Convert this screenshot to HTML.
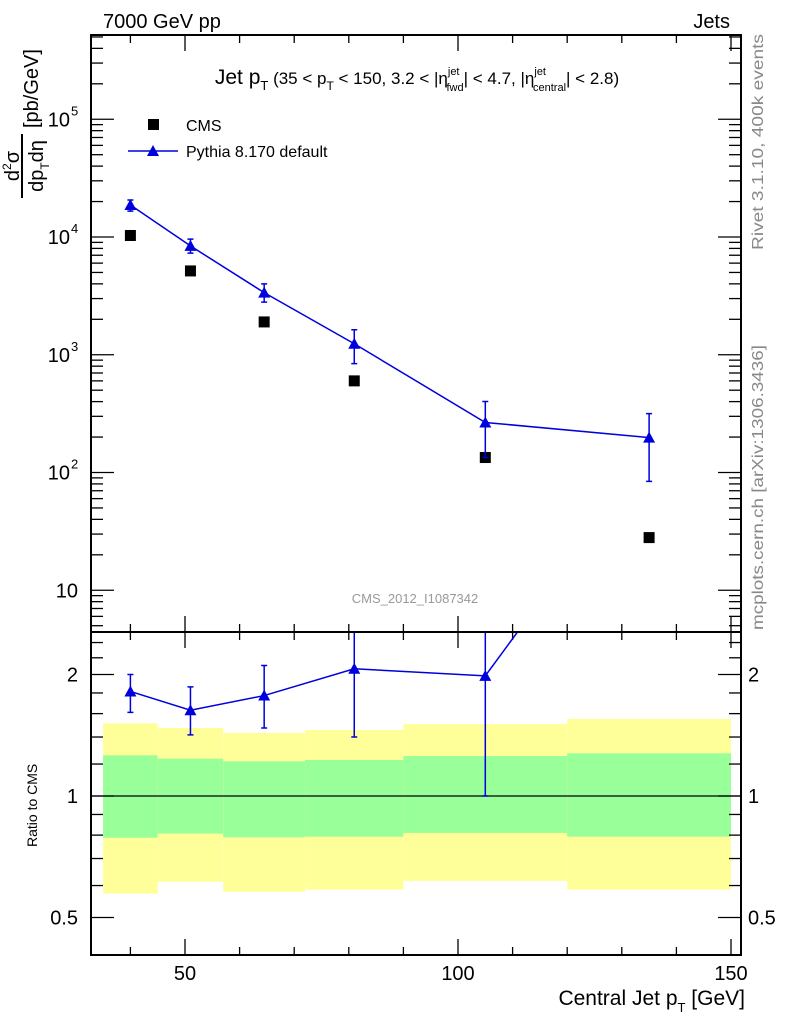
<!DOCTYPE html>
<html><head><meta charset="utf-8"><style>
html,body{margin:0;padding:0;background:#fff}
svg{display:block;font-family:"Liberation Sans",sans-serif}
</style></head><body>
<svg id="chart" width="786" height="1024" viewBox="0 0 786 1024" xmlns="http://www.w3.org/2000/svg">
<g id="bands"></g>
<g id="ticks" stroke="#000" stroke-width="1.3"></g>
<g id="series"></g>
<rect x="91" y="35" width="650" height="597" fill="none" stroke="#000" stroke-width="2"/>
<rect x="91" y="632" width="650" height="323" fill="none" stroke="#000" stroke-width="2"/>
<text x="103" y="28" font-size="20">7000 GeV pp</text>
<text x="730" y="28" font-size="20" text-anchor="end">Jets</text>
<text x="417" y="84" font-size="21" text-anchor="middle">Jet p<tspan font-size="13" dy="6">T</tspan><tspan dy="-6" font-size="17"> (35 &lt; p</tspan><tspan font-size="12" dy="6">T</tspan><tspan dy="-6" font-size="17"> &lt; 150, 3.2 &lt; |η</tspan><tspan font-size="11" dy="-9">jet</tspan><tspan font-size="11" dx="-13" dy="16">fwd</tspan><tspan dy="-7" font-size="17">| &lt; 4.7, |η</tspan><tspan font-size="11" dy="-9">jet</tspan><tspan font-size="11" dx="-13" dy="16">central</tspan><tspan dy="-7" font-size="17">| &lt; 2.8)</tspan></text>
<g>
<rect x="148" y="119" width="11" height="11" fill="#000"/>
<text x="186" y="131" font-size="16">CMS</text>
<line x1="128" y1="151" x2="178" y2="151" stroke="#0000dd" stroke-width="1.5"/>
<polygon points="147,156 159,156 153,145" fill="#0000dd"/>
<text x="186" y="157" font-size="16">Pythia 8.170 default</text>
</g>
<g>
<text transform="translate(19,166) rotate(-90)" font-size="20" text-anchor="middle">d<tspan font-size="12" dy="-8">2</tspan><tspan dy="8">σ</tspan></text>
<line x1="22" y1="134" x2="22" y2="198" stroke="#000" stroke-width="2"/>
<text transform="translate(43,166) rotate(-90)" font-size="20" text-anchor="middle">dp<tspan font-size="12" dy="6">T</tspan><tspan dy="-6">dη</tspan></text>
<text transform="translate(38,128) rotate(-90)" font-size="20">[pb/GeV]</text>
</g>
<text transform="translate(37,847) rotate(-90)" font-size="14">Ratio to CMS</text>
<text x="745" y="1005" font-size="21" text-anchor="end">Central Jet p<tspan font-size="13" dy="7">T</tspan><tspan dy="-7"> [GeV]</tspan></text>
<text x="415" y="603" font-size="13" fill="#999" text-anchor="middle">CMS_2012_I1087342</text>
<text transform="translate(763,250) rotate(-90)" font-size="16" textLength="216" lengthAdjust="spacingAndGlyphs" fill="#888">Rivet 3.1.10,  400k events</text>
<text transform="translate(763,630) rotate(-90)" font-size="16" textLength="285" lengthAdjust="spacingAndGlyphs" fill="#888">mcplots.cern.ch [arXiv:1306.3436]</text>
<g id="labels"></g>
</svg>
<script>
const binEdges=[35,45,57,72,90,120,150];
const xCenters=[40,51,64.5,81,105,135];
const cmsValues=[10300,5150,1900,600,134,28];
const pythiaValues=[18700,8400,3370,1240,266,198];
const pythiaUp=[20600,9600,4000,1630,401,316];
const pythiaDown=[16600,7300,2800,840,134,84];
const yellowUp=[1.514,1.474,1.433,1.457,1.507,1.552];
const yellowDown=[0.573,0.613,0.579,0.586,0.616,0.586];
const greenUp=[1.261,1.237,1.219,1.228,1.256,1.276];
const greenDown=[0.788,0.807,0.790,0.793,0.810,0.793];
const xTickLabels=[50,100,150];
const yTickLabels=[{v:10,t:"10"},{v:100,t:"10",e:"2"},{v:1000,t:"10",e:"3"},{v:10000,t:"10",e:"4"},{v:100000,t:"10",e:"5"}];
const rTickLabels=[{v:0.5,t:"0.5"},{v:1,t:"1"},{v:2,t:"2"}];

const NS="http://www.w3.org/2000/svg";
const L=91,R=741,MT=35,MB=632,RB=955;
const xS=v=>185+(v-50)*5.46;
const yM=v=>237-(Math.log10(v)-4)*117.75;
const yR=r=>796-Math.log2(r)*121.5;
function mk(tag,attrs,parent){const e=document.createElementNS(NS,tag);for(const k in attrs)e.setAttribute(k,attrs[k]);parent.appendChild(e);return e;}
const bands=document.getElementById('bands'),ticks=document.getElementById('ticks'),series=document.getElementById('series'),labels=document.getElementById('labels');

for(let i=0;i<xCenters.length;i++){
  const x1=xS(binEdges[i]),x2=xS(binEdges[i+1]);
  const y=mk('rect',{x:x1,y:yR(yellowUp[i]),width:x2-x1,height:yR(yellowDown[i])-yR(yellowUp[i]),fill:'#ffff99'},bands);
  
  
  const g=mk('rect',{x:x1,y:yR(greenUp[i]),width:x2-x1,height:yR(greenDown[i])-yR(greenUp[i]),fill:'#99ff99'},bands);
  
  
}
const one=mk('line',{x1:L,x2:R,y1:yR(1),y2:yR(1),stroke:'#000','stroke-width':1.3},bands);



for(let v=40;v<=150;v+=10){
  const maj=v%50===0, len=maj?16:8, x=xS(v);
  [[MT,1],[MB,-1],[MB,1],[RB,-1]].forEach(([y0,d])=>mk('line',{x1:x,x2:x,y1:y0,y2:y0+d*len},ticks));
}
for(let d=0;d<=5;d++)for(let m=1;m<=9;m++){
  const v=m*Math.pow(10,d);const y=yM(v);if(y<MT||y>MB)continue;
  const len=m===1?23:12;
  mk('line',{x1:L,x2:L+len,y1:y,y2:y},ticks);mk('line',{x1:R,x2:R-len,y1:y,y2:y},ticks);
}
[0.5,1,2].forEach(v=>{const y=yR(v);mk('line',{x1:L,x2:L+23,y1:y,y2:y},ticks);mk('line',{x1:R,x2:R-23,y1:y,y2:y},ticks);});
[0.6,0.7,0.8,0.9,1.2,1.4,1.6,1.8,2.2,2.4].forEach(v=>{const y=yR(v);mk('line',{x1:L,x2:L+12,y1:y,y2:y},ticks);mk('line',{x1:R,x2:R-12,y1:y,y2:y},ticks);});

xTickLabels.forEach(v=>{const t=mk('text',{x:xS(v),y:980,'font-size':20,'text-anchor':'middle'},labels);t.textContent=v;
  
  });
yTickLabels.forEach(o=>{const t=mk('text',{x:o.e?70:78,y:yM(o.v)+7,'font-size':20,'text-anchor':'end'},labels);t.textContent=o.t;
  
  
  if(o.e){const s=mk('text',{x:71,y:yM(o.v)-4,'font-size':13},labels);s.textContent=o.e;
  
  }});
rTickLabels.forEach(o=>{
  const a=mk('text',{x:78,y:yR(o.v)+7,'font-size':20,'text-anchor':'end'},labels);a.textContent=o.t;
  
  
  const b=mk('text',{x:748,y:yR(o.v)+7,'font-size':20},labels);b.textContent=o.t;
  
  });

const BLUE='#0000dd';
function tri(x,y,p,name){const t=mk('polygon',{points:`${x-6},${y+5} ${x+6},${y+5} ${x},${y-6}`,fill:BLUE},p);
  
  }
let pts=xCenters.map((x,i)=>xS(x)+','+yM(pythiaValues[i])).join(' ');
const pl=mk('polyline',{points:pts,fill:'none',stroke:BLUE,'stroke-width':1.5},series);


xCenters.forEach((xv,i)=>{
  const x=xS(xv);
  const c=mk('rect',{x:x-5.5,y:yM(cmsValues[i])-5.5,width:11,height:11,fill:'#000'},series);
  
  
  const e=mk('path',{d:`M${x},${yM(pythiaUp[i])}V${yM(pythiaDown[i])}M${x-3},${yM(pythiaUp[i])}h6M${x-3},${yM(pythiaDown[i])}h6`,stroke:BLUE,'stroke-width':1.5,fill:'none'},series);
  
  
  tri(x,yM(pythiaValues[i]),series,'pythia-point');
});
const cp=mk('clipPath',{id:'rc'},series);mk('rect',{x:L,y:MB,width:R-L,height:RB-MB},cp);
const rg=mk('g',{'clip-path':'url(#rc)'},series);


const rpts=xCenters.map((x,i)=>xS(x)+','+yR(pythiaValues[i]/cmsValues[i])).join(' ');
const rl=mk('polyline',{points:rpts,fill:'none',stroke:BLUE,'stroke-width':1.5},rg);


xCenters.forEach((xv,i)=>{
  const x=xS(xv),u=yR(pythiaUp[i]/cmsValues[i]),d=yR(pythiaDown[i]/cmsValues[i]);
  const e=mk('path',{d:`M${x},${u}V${d}M${x-3},${u}h6M${x-3},${d}h6`,stroke:BLUE,'stroke-width':1.5,fill:'none'},rg);
  
  
  tri(x,yR(pythiaValues[i]/cmsValues[i]),rg,'ratio-point');
});
</script>
</body></html>
